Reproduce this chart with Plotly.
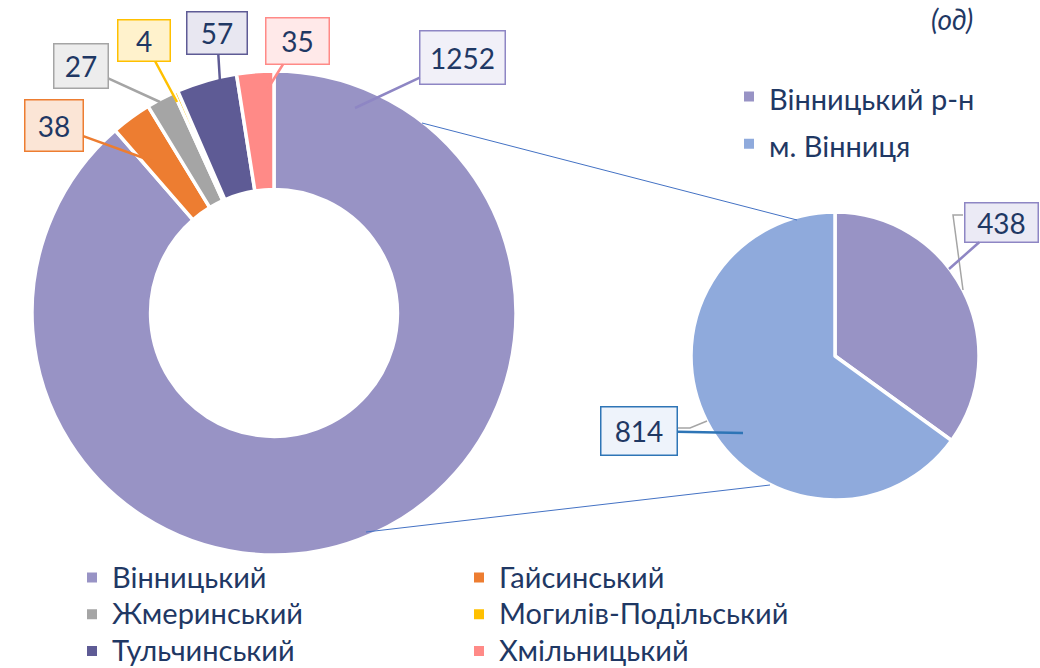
import plotly.graph_objects as go

W, H = 1040, 668

# ---- data ----
districts = ["Вінницький", "Гайсинський", "Жмеринський", "Могилів-Подільський",
             "Тульчинський", "Хмільницький"]
district_values = [1252, 38, 27, 4, 57, 35]
district_colors = ["#9893C5", "#ED7D31", "#A5A5A5", "#FFC000", "#5E5B95", "#FF8A87"]

split_labels = ["Вінницький р-н", "м. Вінниця"]
split_values = [438, 814]
split_colors = ["#9893C5", "#8FAADC"]

unit_label = "(од)"

TEXT = "#1F3864"
FONT = "Lato"
LEG_SIZE = 29


def px(x, y):
    return x / W, 1 - y / H


def dom(cx, cy, r):
    return dict(x=[(cx - r) / W, (cx + r) / W], y=[1 - (cy + r) / H, 1 - (cy - r) / H])


def sized(names, size):
    return [f"<span style='font-size:{size}px'>{n}</span>" for n in names]


fig = go.Figure()

fig.add_trace(go.Pie(
    labels=sized(districts, LEG_SIZE), values=district_values, sort=False,
    direction="clockwise", rotation=0, hole=0.51, domain=dom(274, 313, 242),
    marker=dict(colors=district_colors, line=dict(color="white", width=3.5)),
    textinfo="none", legend="legend", hoverinfo="label+value",
))

fig.add_trace(go.Pie(
    labels=sized(split_labels, LEG_SIZE), values=split_values, sort=False,
    direction="clockwise", rotation=0, domain=dom(835, 356, 144),
    marker=dict(colors=split_colors, line=dict(color="white", width=3.5)),
    textinfo="none", legend="legend2", hoverinfo="label+value",
))

# callout styles (layout only): tip, box, fill, border
d_callouts = [
    dict(tip=(355, 108), box=(419, 30, 506, 85), fill="#F1F0F8", border="#8E86C4"),
    dict(tip=(152, 161), box=(24, 99, 84, 152), fill="#FBE5D6", border="#ED7D31"),
    dict(tip=(160, 102), box=(53, 43, 109, 89), fill="#EDEDED", border="#A5A5A5"),
    dict(tip=(177, 102), box=(117, 19, 171, 62), fill="#FFF2CC", border="#FFC000"),
    dict(tip=(220, 82), box=(186, 11, 248, 55), fill="#E8E7F1", border="#5E5B95"),
    dict(tip=(267, 90), box=(265, 17, 330, 65), fill="#FFE9E9", border="#FF8A87"),
]
s_callouts = [
    dict(tip=(949, 269), box=(964, 202, 1039, 243), fill="#EBEAF5", border="#8E86C4"),
    dict(tip=(743, 433), box=(600, 406, 678, 456), fill="#EEF3FB", border="#2E75B6"),
]

annotations = []
for vals, styles in ((district_values, d_callouts), (split_values, s_callouts)):
    for v, c in zip(vals, styles):
        tx, ty = c["tip"]
        x0, y0, x1, y1 = c["box"]
        cx, cy = (x0 + x1) / 2, (y0 + y1) / 2
        xp, yp = px(tx, ty)
        annotations.append(dict(
            x=xp, y=yp, xref="paper", yref="paper", text=str(v),
            showarrow=True, arrowhead=0, arrowwidth=2.5, arrowcolor=c["border"],
            ax=cx - tx, ay=cy - ty, axref="pixel", ayref="pixel", standoff=0,
            bgcolor=c["fill"], bordercolor=c["border"], borderwidth=1.5, borderpad=0,
            width=(x1 - x0) - 3, height=(y1 - y0) - 3, align="center", valign="middle",
            font=dict(family=FONT, size=28, color=TEXT),
        ))

xp, yp = px(952, 19)
annotations.append(dict(
    x=xp, y=yp, xref="paper", yref="paper", text=f"<i>{unit_label}</i>",
    xanchor="center", yanchor="middle",
    showarrow=False, font=dict(family=FONT, size=28, color=TEXT),
))

shapes = []
for (a, b) in (((422, 123), (797, 220)), ((366, 532), (770, 485))):
    x0, y0 = px(*a)
    x1, y1 = px(*b)
    shapes.append(dict(type="line", xref="paper", yref="paper", x0=x0, y0=y0, x1=x1, y1=y1,
                       line=dict(color="#4472C4", width=1)))


def path(points):
    pts = [px(*p) for p in points]
    return "M" + " L".join(f"{x},{y}" for x, y in pts)


for pts in ([(963, 215), (953, 215), (963, 290)], [(678, 428), (690, 428), (707, 421)]):
    shapes.append(dict(type="path", xref="paper", yref="paper", path=path(pts),
                       line=dict(color="#A5A5A5", width=1.5)))

lx1, ly1 = px(72, 554)
lx2, ly2 = px(729, 68)

fig.update_layout(
    width=W, height=H, margin=dict(l=0, r=0, t=0, b=0, autoexpand=False),
    paper_bgcolor="white", plot_bgcolor="white",
    font=dict(family=FONT, color=TEXT),
    annotations=annotations, shapes=shapes,
    legend=dict(orientation="h", x=lx1, y=ly1, xanchor="left", yanchor="top",
                entrywidth=342, entrywidthmode="pixels", itemsizing="constant",
                font=dict(family=FONT, size=26, color=TEXT), bgcolor="rgba(0,0,0,0)"),
    legend2=dict(orientation="v", x=lx2, y=ly2, xanchor="left", yanchor="top",
                 itemsizing="constant",
                 font=dict(family=FONT, size=34, color=TEXT), bgcolor="rgba(0,0,0,0)"),
)

fig.write_html("out.html", config={"displayModeBar": False},
               post_script="document.body.style.margin='0';document.body.style.padding='0';")
